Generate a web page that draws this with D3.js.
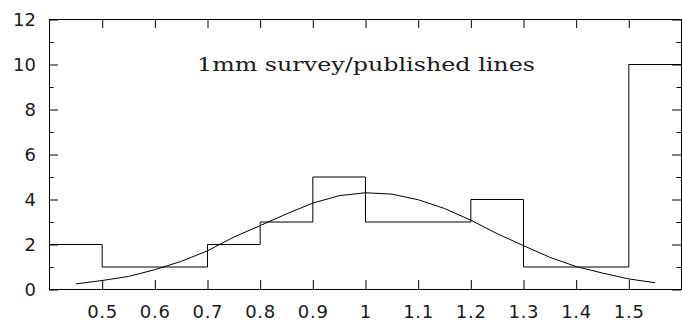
<!DOCTYPE html>
<html>
<head>
<meta charset="utf-8">
<script src="https://cdn.jsdelivr.net/npm/d3@7"></script>
<style>
  html, body { margin: 0; padding: 0; background: #fff; }
  svg { display: block; }
</style>
</head>
<body>
<svg id="chart" width="682" height="322"></svg>
<script>
// Histogram of line ratios: bin left edges (width 0.1) and counts per bin
const binEdges = [0.4, 0.5, 0.6, 0.7, 0.8, 0.9, 1.0, 1.1, 1.2, 1.3, 1.4, 1.5];
const binCounts = [2, 1, 1, 2, 3, 5, 3, 3, 4, 1, 1, 10];
const binWidth = 0.1;

// Fitted curve overlaid on the histogram
const curveX = [0.45, 0.50, 0.55, 0.60, 0.65, 0.70, 0.75, 0.80, 0.85, 0.90, 0.95, 1.00,
                1.05, 1.10, 1.15, 1.20, 1.25, 1.30, 1.35, 1.40, 1.45, 1.50, 1.55];
const curveY = [0.25, 0.40, 0.58, 0.88, 1.25, 1.72, 2.33, 2.84, 3.36, 3.84, 4.17, 4.30,
                4.24, 3.99, 3.60, 3.08, 2.48, 1.95, 1.43, 1.02, 0.73, 0.47, 0.30];

// Axis ticks and labels
const xTickValues = [0.5, 0.6, 0.7, 0.8, 0.9, 1.0, 1.1, 1.2, 1.3, 1.4, 1.5];
const xTickLabels = ["0.5", "0.6", "0.7", "0.8", "0.9", "1", "1.1", "1.2", "1.3", "1.4", "1.5"];
const yMajorTicks = [0, 2, 4, 6, 8, 10, 12];
const yMinorTicks = [1, 3, 5, 7, 9, 11];
const titleText = "1mm survey/published lines";

const svg = d3.select("#chart");
const plotLeft = 49.5, plotRight = 681.5, plotTop = 19.5, plotBottom = 289.5;

const x = d3.scaleLinear().domain([0.4, 1.6]).range([plotLeft, plotRight]);
const y = d3.scaleLinear().domain([0, 12]).range([plotBottom, plotTop]);

const ink = "#000";
const textInk = "#1a1a1a";

// Frame
svg.append("rect")
  .attr("x", plotLeft).attr("y", plotTop)
  .attr("width", plotRight - plotLeft).attr("height", plotBottom - plotTop)
  .attr("fill", "none").attr("stroke", ink).attr("stroke-width", 1);

const majorLen = 9, minorLen = 4.5;

// Y ticks (inside, both sides) via d3 axes
const yMajorLeft = d3.axisRight(y).tickValues(yMajorTicks).tickSize(majorLen).tickFormat("");
const yMinorLeft = d3.axisRight(y).tickValues(yMinorTicks).tickSize(minorLen).tickFormat("");
const yMajorRight = d3.axisLeft(y).tickValues(yMajorTicks).tickSize(majorLen).tickFormat("");
const yMinorRight = d3.axisLeft(y).tickValues(yMinorTicks).tickSize(minorLen).tickFormat("");
[[yMajorLeft, plotLeft], [yMinorLeft, plotLeft], [yMajorRight, plotRight], [yMinorRight, plotRight]].forEach(([ax, pos]) => {
  const g = svg.append("g").attr("transform", `translate(${pos - 0.5},0)`).call(ax);
  g.select(".domain").remove();
  g.selectAll("line").attr("stroke", ink);
});

// X ticks (inside, top and bottom)
const xBottom = d3.axisTop(x).tickValues(xTickValues).tickSize(majorLen).tickFormat("");
const xTop = d3.axisBottom(x).tickValues(xTickValues).tickSize(majorLen).tickFormat("");
[[xBottom, plotBottom], [xTop, plotTop]].forEach(([ax, pos]) => {
  const g = svg.append("g").attr("transform", `translate(0,${pos - 0.5})`).call(ax);
  g.select(".domain").remove();
  g.selectAll("line").attr("stroke", ink);
});

// Tick labels
svg.append("g").selectAll("text")
  .data(yMajorTicks).join("text")
  .attr("x", 36).attr("y", d => y(d))
  .attr("dy", "0.36em")
  .attr("text-anchor", "end")
  .attr("font-family", "DejaVu Sans, sans-serif")
  .attr("font-size", 18)
  .attr("fill", textInk)
  .text(d => d);

svg.append("g").selectAll("text")
  .data(xTickValues).join("text")
  .attr("x", d => x(d)).attr("y", 318)
  .attr("text-anchor", "middle")
  .attr("font-family", "DejaVu Sans, sans-serif")
  .attr("font-size", 18)
  .attr("fill", textInk)
  .each(function (d, i) {
    const label = xTickLabels[i];
    const t = d3.select(this).text(label);
    if (label.length > 1) t.attr("textLength", 30).attr("lengthAdjust", "spacing");
  });

// Histogram as a step outline
const stepPts = binEdges.map((e, i) => [e, binCounts[i]]);
stepPts.push([binEdges[binEdges.length - 1] + binWidth, binCounts[binCounts.length - 1]]);
svg.append("path")
  .datum(stepPts)
  .attr("fill", "none").attr("stroke", ink).attr("stroke-width", 1)
  .attr("d", d3.line().x(d => x(d[0])).y(d => y(d[1])).curve(d3.curveStepAfter));

// Fitted curve
svg.append("path")
  .datum(curveX.map((v, i) => [v, curveY[i]]))
  .attr("fill", "none").attr("stroke", ink).attr("stroke-width", 1)
  .attr("d", d3.line().x(d => x(d[0])).y(d => y(d[1])));

// Title
svg.append("text")
  .attr("x", 197).attr("y", 70.5)
  .attr("font-family", "DejaVu Serif, serif")
  .attr("font-size", 19)
  .attr("textLength", 338)
  .attr("lengthAdjust", "spacingAndGlyphs")
  .attr("fill", textInk)
  .text(titleText);
</script>
</body>
</html>
